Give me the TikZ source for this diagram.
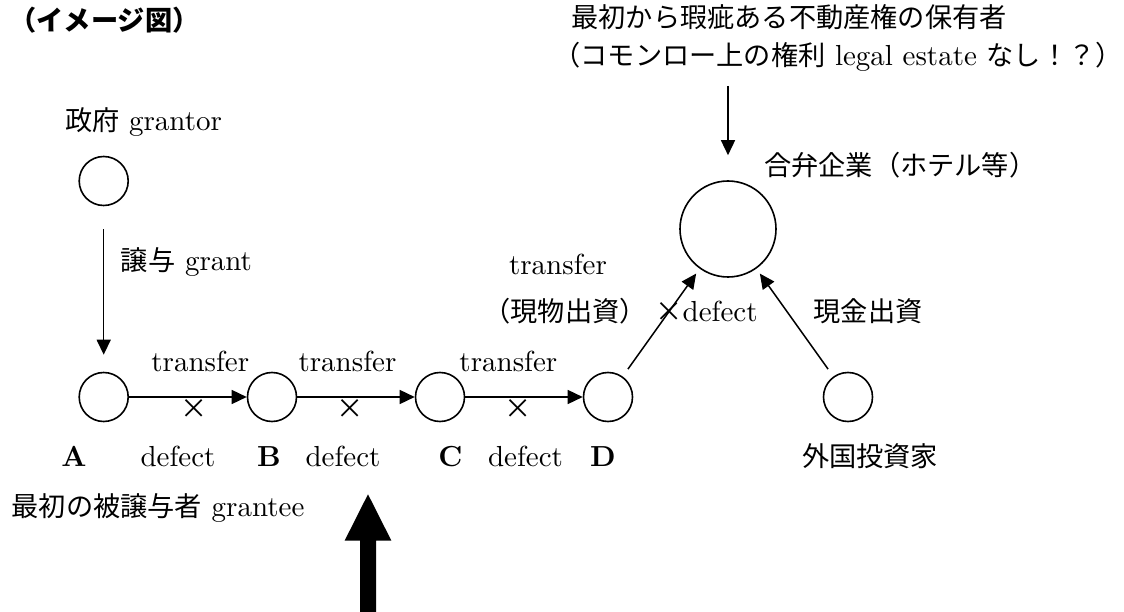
\documentclass[tikz,border=0pt]{standalone}
\usepackage{fontspec}
\setmainfont{lmroman10-regular.otf}[BoldFont=lmroman10-bold.otf, ItalicFont=lmroman10-italic.otf, BoldItalicFont=lmroman10-bolditalic.otf]
\newfontfamily\jpfont{Noto Sans CJK JP}
\usetikzlibrary{arrows.meta}
\newcommand\jtxt[1]{{\jpfont\fontsize{27.2}{32}\selectfont #1}}
\newcommand\lattxt{\fontsize{29}{34}\selectfont}
\begin{document}
\begin{tikzpicture}[x=1pt,y=-1pt,
  circ/.style={draw, circle, line width=1.6pt, minimum size=49pt, inner sep=0pt},
  bigcirc/.style={circ, minimum size=96pt},
  lbl/.style={inner sep=0pt, text height=22pt, text depth=6pt, font=\lattxt},
  arr/.style={line width=1.5pt, -{Triangle[length=15pt,width=14pt]}},
  diag/.style={arr, shorten <=9pt, shorten >=6pt},
]
\path[use as bounding box] (0,0) rectangle (1124,612);

% circles
\node[circ] (G) at (103.7,181) {};
\node[circ] (A) at (103.7,397) {};
\node[circ] (B) at (272,397) {};
\node[circ] (C) at (440,397) {};
\node[circ] (D) at (608,397) {};
\node[circ] (F) at (848,397) {};
\node[bigcirc] (J) at (728,229) {};

% texts
\node[lbl] (title) at (104.5,23) {\jtxt{\bfseries （イメージ図）}};
\node[lbl] (t1) at (789,20) {\jtxt{最初から瑕疵ある不動産権の保有者}};
\node[lbl] (t2) at (838,58) {\jtxt{（コモンロー上の権利} legal estate \jtxt{なし！？）}};
\node[lbl] (gl) at (143.5,123) {\jtxt{政府} grantor};
\node[lbl] (grant) at (186.5,263) {\jtxt{譲与} grant};
\node[lbl, anchor=west] (jl) at (764,168) {\jtxt{合弁企業（ホテル等）}};

\node[lbl] (tr1) at (200.3,363) {transfer};
\node[lbl] (tr2) at (347.5,363) {transfer};
\node[lbl] (tr3) at (508.4,363) {transfer};
\node[lbl] (tr4) at (558,267) {transfer};
\node[lbl] (gb) at (565,313) {\jtxt{（現物出資）}};
\node[lbl] (xd) at (706.5,313) {\jtxt{×}defect};
\node[lbl] (cash) at (868,313) {\jtxt{現金出資}};

\node[lbl] (x1) at (194.5,410) {\jtxt{×}};
\node[lbl] (x2) at (350.4,410) {\jtxt{×}};
\node[lbl] (x3) at (518,410) {\jtxt{×}};

\node[lbl, font=\lattxt\bfseries] (la) at (74,458) {A};
\node[lbl, font=\lattxt\bfseries] (lb) at (269,458) {B};
\node[lbl, font=\lattxt\bfseries] (lc) at (450.5,458) {C};
\node[lbl, font=\lattxt\bfseries] (ld) at (603,458) {D};
\node[lbl] (d1) at (178,458) {defect};
\node[lbl] (d2) at (343,458) {defect};
\node[lbl] (d3) at (525.5,458) {defect};
\node[lbl] (fi) at (870,458) {\jtxt{外国投資家}};
\node[lbl] (ge) at (158,508) {\jtxt{最初の被譲与者} grantee};

% connectors
\draw[arr] ([yshift=-23pt]G.south) -- ([yshift=17pt]A.north);
\draw[arr] (A) -- (B);
\draw[arr] (B) -- (C);
\draw[arr] (C) -- (D);
\draw[diag] (D) -- (J);
\draw[diag] (F) -- (J);
\coordinate (T) at (728,86);
\draw[arr] (T) -- ([yshift=25pt]J.north);

% big arrow
\fill (360,612) -- (360,540.7) -- (344.6,540.7) -- (368,494.3) -- (391.4,540.7)
  -- (376,540.7) -- (376,612) -- cycle;
\end{tikzpicture}
\end{document}
